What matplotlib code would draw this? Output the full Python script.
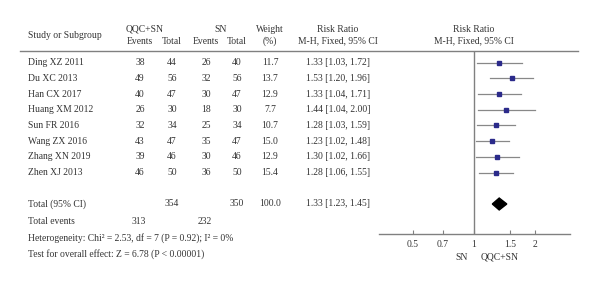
import matplotlib
matplotlib.use('Agg')
import matplotlib.pyplot as plt
import numpy as np

studies = ["Ding XZ 2011", "Du XC 2013", "Han CX 2017", "Huang XM 2012",
           "Sun FR 2016", "Wang ZX 2016", "Zhang XN 2019", "Zhen XJ 2013"]
exp_events = [38, 49, 40, 26, 32, 43, 39, 46]
exp_total = [44, 56, 47, 30, 34, 47, 46, 50]
ctl_events = [26, 32, 30, 18, 25, 35, 30, 36]
ctl_total = [40, 56, 47, 30, 34, 47, 46, 50]
weights = [11.7, 13.7, 12.9, 7.7, 10.7, 15.0, 12.9, 15.4]
rr = [1.33, 1.53, 1.33, 1.44, 1.28, 1.23, 1.30, 1.28]
rr_lo = [1.03, 1.20, 1.04, 1.04, 1.03, 1.02, 1.02, 1.06]
rr_hi = [1.72, 1.96, 1.71, 2.00, 1.59, 1.48, 1.66, 1.55]

total_rr, total_lo, total_hi = 1.33, 1.23, 1.45
total_exp, total_ctl = 354, 350
total_exp_events, total_ctl_events = 313, 232
tick_vals = [0.5, 0.7, 1, 1.5, 2]
tick_labels = ["0.5", "0.7", "1", "1.5", "2"]

plt.rcParams['font.family'] = ['Liberation Serif', 'DejaVu Serif']
txt_color = '#333333'
fs = 6.9

fig = plt.figure(figsize=(6, 2.87), dpi=100)

# full-figure axes in pixel units for the table text
tab = fig.add_axes([0, 0, 1, 1])
tab.set_xlim(0, 600)
tab.set_ylim(287, 0)
tab.axis('off')

row0, step = 62.7, 15.7
total_y = row0 + 9 * step

def put(x, y, s, ha='center'):
    tab.text(x, y, s, ha=ha, va='center', fontsize=fs, color=txt_color)

# header
put(28, 35, "Study or Subgroup", ha='left')
put(145, 29, "QQC+SN")
put(140, 41, "Events")
put(172, 41, "Total")
put(221, 29, "SN")
put(206, 41, "Events")
put(237, 41, "Total")
put(270, 29, "Weight")
put(270, 41, "(%)")
put(338, 29, "Risk Ratio")
put(338, 41, "M-H, Fixed, 95% CI")
put(474, 29, "Risk Ratio")
put(474, 41, "M-H, Fixed, 95% CI")
tab.plot([20, 578], [50.5, 50.5], color='#808080', lw=1.0)

for i, name in enumerate(studies):
    y = row0 + i * step
    put(28, y, name, ha='left')
    put(140, y, str(exp_events[i]))
    put(172, y, str(exp_total[i]))
    put(206, y, str(ctl_events[i]))
    put(237, y, str(ctl_total[i]))
    put(270, y, f"{weights[i]:.1f}")
    put(338, y, f"{rr[i]:.2f} [{rr_lo[i]:.2f}, {rr_hi[i]:.2f}]")

put(28, total_y, "Total (95% CI)", ha='left')
put(172, total_y, str(total_exp))
put(237, total_y, str(total_ctl))
put(270, total_y, "100.0")
put(338, total_y, f"{total_rr:.2f} [{total_lo:.2f}, {total_hi:.2f}]")
put(28, 222, "Total events", ha='left')
put(139, 222, str(total_exp_events))
put(205, 222, str(total_ctl_events))
put(28, 238, "Heterogeneity: Chi² = 2.53, df = 7 (P = 0.92); I² = 0%", ha='left')
put(28, 254, "Test for overall effect: Z = 6.78 (P < 0.00001)", ha='left')

# forest plot axes
left, right, top, bottom = 379, 570, 50.5, 234
ax = fig.add_axes([left / 600, (287 - bottom) / 287, (right - left) / 600, (bottom - top) / 287])
ax.set_xscale('log')
ax.set_xlim(0.34, 2.97)
ax.set_ylim((bottom - row0) / step, (top - row0) / step)
ax.patch.set_alpha(0)
for s in ['top', 'left', 'right']:
    ax.spines[s].set_visible(False)
ax.spines['bottom'].set_color('#808080')
ax.spines['bottom'].set_linewidth(1.0)
ax.set_yticks([])
ax.set_xticks(tick_vals)
ax.set_xticklabels(tick_labels)
ax.minorticks_off()
ax.tick_params(axis='x', direction='in', length=3, color='#808080',
               labelsize=fs, labelcolor=txt_color, pad=4)

ax.axvline(1, color='#808080', lw=1.0)
ys = np.arange(len(studies))
for i in range(len(studies)):
    ax.plot([rr_lo[i], rr_hi[i]], [ys[i], ys[i]], color='#888888', lw=0.9)
    ax.plot(rr[i], ys[i], marker='s', color='#2b2a8a', ms=np.sqrt(weights[i]) * 0.78, mec='#2b2a8a')

ax.fill([total_lo, total_rr, total_hi, total_rr],
        [9, 9 - 0.38, 9, 9 + 0.38], color='black')

put(462, 257, "SN")
put(500, 257, "QQC+SN")

fig.savefig('out.png', dpi=100)
